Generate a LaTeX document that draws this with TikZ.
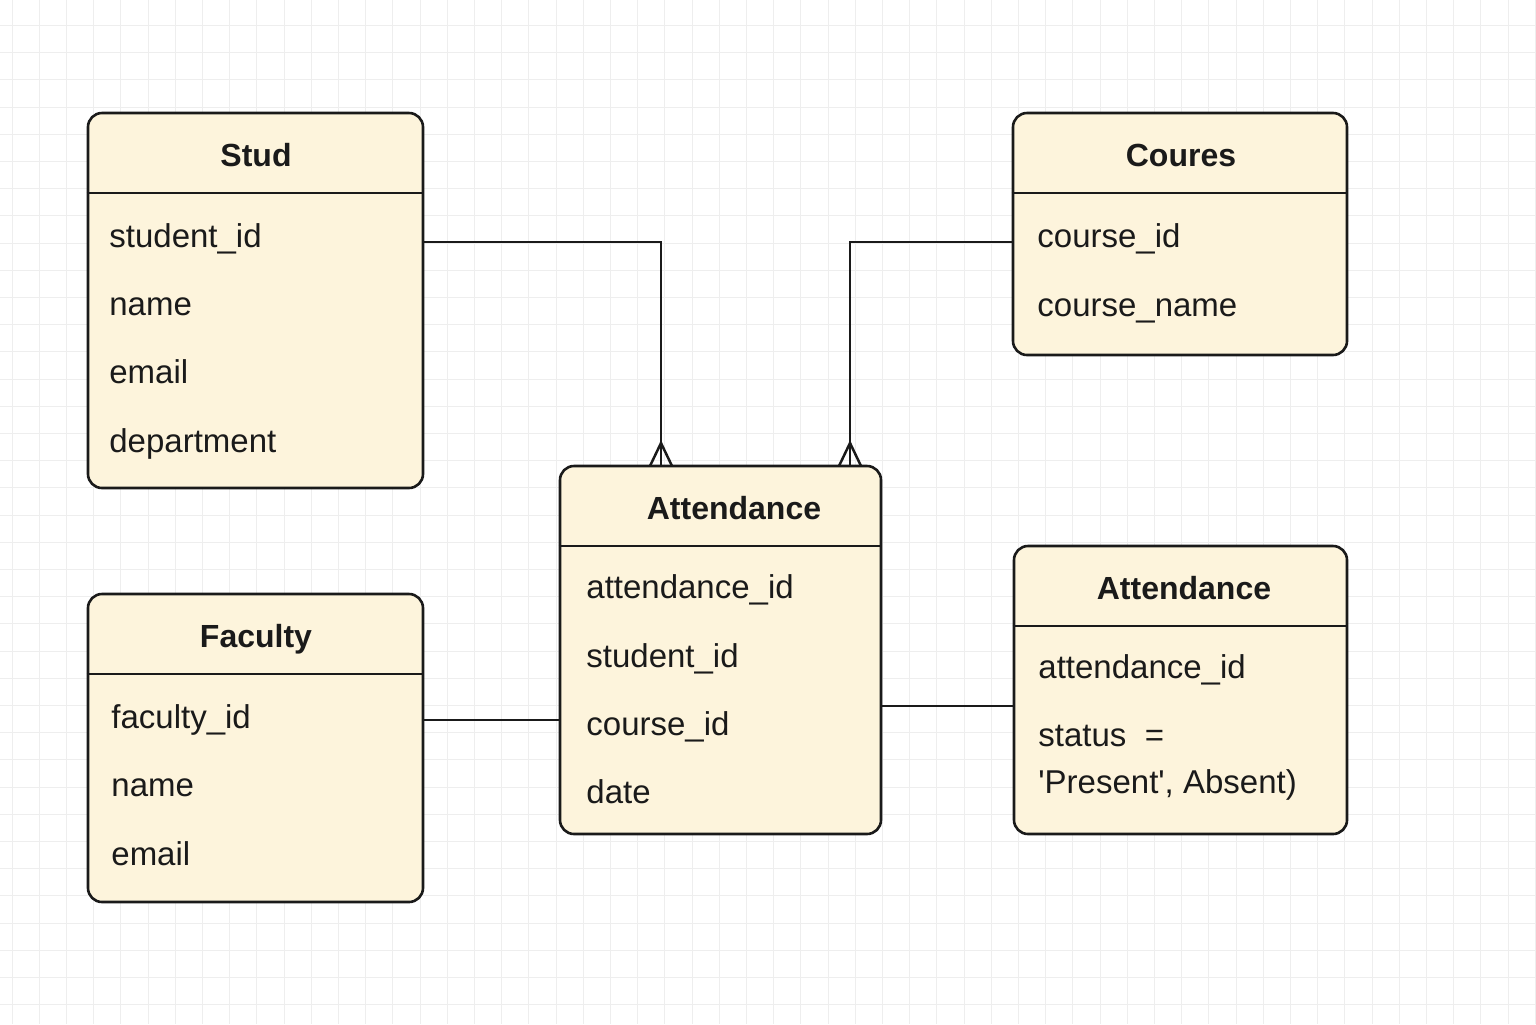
\documentclass[tikz,border=0pt]{standalone}
\usepackage{fontspec}
\setmainfont{Liberation Sans}[Ligatures=TeXOff]
\definecolor{cream}{HTML}{FDF4DC}
\definecolor{gridc}{HTML}{EEEEEE}
\definecolor{ink}{HTML}{1A1A1A}
\begin{document}
\begin{tikzpicture}[x=0.5pt,y=-0.5pt,
  ent/.style={draw=ink,line width=1.3pt,fill=cream,rounded corners=7pt,inner sep=0pt},
  ttl/.style={font=\fontsize{16}{19}\selectfont\bfseries,text=ink,anchor=base},
  attr/.style={font=\fontsize{16.5}{20}\selectfont,text=ink,anchor=base west,inner sep=0pt},
  sep/.style={draw=ink,line width=1.2pt},
  conn/.style={draw=ink,line width=1.25pt}]
\useasboundingbox (0,0) rectangle (1536,1024);
\fill[white] (0,0) rectangle (1536,1024);
\foreach \i in {0,...,56} {\draw[gridc,line width=0.5pt] (12+27.2*\i,0) -- (12+27.2*\i,1024);}
\foreach \i in {0,...,37} {\draw[gridc,line width=0.5pt] (0,25.5+27.2*\i) -- (1536,25.5+27.2*\i);}

\node[ent,minimum width=167.5pt,minimum height=187.5pt] (stud) at (255.5,300.5) {};
\node[ent,minimum width=167pt,minimum height=121pt] (coures) at (1180,234) {};
\node[ent,minimum width=160.5pt,minimum height=184pt] (attc) at (720.5,650) {};
\node[ent,minimum width=167.5pt,minimum height=154pt] (fac) at (255.5,748) {};
\node[ent,minimum width=166.5pt,minimum height=144pt] (attr) at (1180.5,690) {};

% connectors
\draw[conn] (stud.east |- 0,242) -| (attc.north -| 661,0);
\draw[conn] (650,466) -- (661,443) -- (672,466);
\draw[conn] (coures.west |- 0,242) -| (attc.north -| 850,0);
\draw[conn] (839,466) -- (850,443) -- (861,466);
\draw[conn] (fac.east |- 0,720) -- (attc.west |- 0,720);
\draw[conn] (attc.east |- 0,706) -- (attr.west |- 0,706);

% header separators
\draw[sep] (stud.west |- 0,193) -- (stud.east |- 0,193);
\draw[sep] (coures.west |- 0,193) -- (coures.east |- 0,193);
\draw[sep] (attc.west |- 0,546) -- (attc.east |- 0,546);
\draw[sep] (fac.west |- 0,674) -- (fac.east |- 0,674);
\draw[sep] (attr.west |- 0,626) -- (attr.east |- 0,626);

% Stud
\node[ttl] (t1) at (256,166) {Stud};
\node[attr] (s1) at (109,247) {student\_id};
\node[attr] (s2) at (109,315) {name};
\node[attr] (s3) at (109,383) {email};
\node[attr] (s4) at (109,452) {department};
% Coures
\node[ttl] (t2) at (1181,166) {Coures};
\node[attr] (c1) at (1037,247) {course\_id};
\node[attr] (c2) at (1037,316) {course\_name};
% Attendance centre
\node[ttl] (t3) at (734,519) {Attendance};
\node[attr] (a1) at (586,598) {attendance\_id};
\node[attr] (a2) at (586,667) {student\_id};
\node[attr] (a3) at (586,735) {course\_id};
\node[attr] (a4) at (586,803) {date};
% Faculty
\node[ttl] (t4) at (256,647) {Faculty};
\node[attr] (f1) at (111,728) {faculty\_id};
\node[attr] (f2) at (111,796) {name};
\node[attr] (f3) at (111,865) {email};
% Attendance right
\node[ttl] (t5) at (1184,599) {Attendance};
\node[attr] (r1) at (1038,678) {attendance\_id};
\node[attr] (r2) at (1038,746) {status\ \ =};
\node[attr] (r3) at (1038,793) {'Present', Absent)};
\end{tikzpicture}
\end{document}
